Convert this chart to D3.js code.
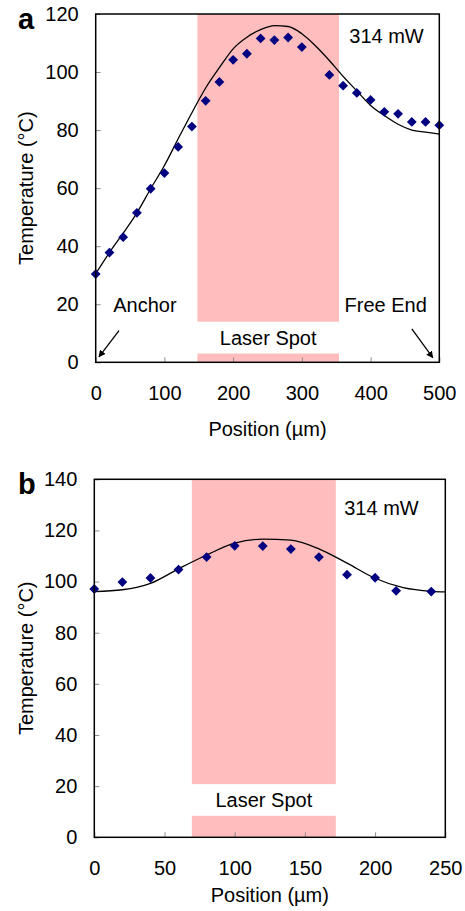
<!DOCTYPE html>
<html>
<head>
<meta charset="utf-8">
<script src="https://cdn.jsdelivr.net/npm/d3@7"></script>
<style>
  body { margin: 0; background: #fff; }
  svg { display: block; }
  text { font-family: "Liberation Sans", Arial, sans-serif; fill: #000; }
</style>
</head>
<body>
<svg id="chart" width="465" height="911"></svg>
<script>
// ---------- DATA ----------
// Panel a: measured points
const posA = [0,20,40,60,80,100,120,140,160,180,200,220,240,260,280,300,340,360,380,400,420,440,460,480,500];
const tempA = [30.4,37.8,43.1,51.5,59.8,65.2,74.2,81.2,90.1,96.6,104.2,106.3,111.6,111.0,111.9,108.6,99.0,95.3,92.8,90.4,86.3,85.6,82.8,82.8,81.7];
// Panel a: model curve
const modelPosA = [0,20,40,60,80,100,120,140,160,180,200,220,240,260,280,300,320,340,360,380,400,420,440,460,480,500];
const modelTempA = [30.5,37.8,44.5,51.5,59.8,67.8,77,86,94.5,101.5,108,112,114.6,116,115.7,113.2,109,104,98.5,93.5,88.5,85,82,80,79.3,78.6];
// Panel b: measured points
const posB = [0,20,40,60,80,100,120,140,160,180,200,215,240];
const tempB = [97.1,99.8,101.4,104.7,109.6,114.0,113.9,112.7,109.6,102.7,101.5,96.4,96.1];
// Panel b: model curve
const modelPosB = [0,20,40,60,80,100,120,140,160,180,200,220,240,250];
const modelTempB = [96.1,96.8,99.3,105,110.4,115,116.6,116.2,112.8,107.2,101.3,97.6,96.2,96.0];

const xTicksA = [0,100,200,300,400,500];
const yTicksA = [0,20,40,60,80,100,120];
const xTicksB = [0,50,100,150,200,250];
const yTicksB = [0,20,40,60,80,100,120,140];

const laserA = [148, 354];      // laser spot extent (µm)
const laserGapA = [3, 14];      // label gap (°C)
const laserB = [69.5, 172];
const laserGapB = [8.4, 20.8];

const powerLabel = "314 mW";
const xTitle = "Position (µm)";
const yTitle = "Temperature (°C)";

// ---------- DRAW ----------
const svg = d3.select("#chart");
const defs = svg.append("defs");
defs.append("marker")
  .attr("id", "arrow").attr("viewBox", "0 0 10 10")
  .attr("refX", 9).attr("refY", 5)
  .attr("markerWidth", 7).attr("markerHeight", 7)
  .attr("markerUnits", "userSpaceOnUse")
  .attr("orient", "auto")
  .append("path").attr("d", "M0,0 L10,5 L0,10 Z").attr("fill", "#000");

function panel(cfg) {
  const g = svg.append("g");
  const x = d3.scaleLinear().domain(cfg.xDomain).range([cfg.left, cfg.right]);
  const y = d3.scaleLinear().domain(cfg.yDomain).range([cfg.bottom, cfg.top]);

  // laser spot
  const lc = "#ffbdbd";
  g.append("rect")
    .attr("x", x(cfg.laser[0])).attr("width", x(cfg.laser[1]) - x(cfg.laser[0]))
    .attr("y", y(cfg.yDomain[1])).attr("height", y(cfg.laserGap[1]) - y(cfg.yDomain[1]))
    .attr("fill", lc);
  g.append("rect")
    .attr("x", x(cfg.laser[0])).attr("width", x(cfg.laser[1]) - x(cfg.laser[0]))
    .attr("y", y(cfg.laserGap[0])).attr("height", y(0) - y(cfg.laserGap[0]))
    .attr("fill", lc);
  g.append("text")
    .attr("x", (x(cfg.laser[0]) + x(cfg.laser[1])) / 2)
    .attr("y", y((cfg.laserGap[0] + cfg.laserGap[1]) / 2))
    .attr("dy", "0.35em")
    .attr("text-anchor", "middle").attr("font-size", 20)
    .text("Laser Spot");

  // axes
  const xa = g.append("g").attr("transform", `translate(0,${cfg.bottom})`)
    .call(d3.axisBottom(x).tickValues(cfg.xTicks).tickSizeInner(-5).tickSizeOuter(0).tickPadding(24));
  const ya = g.append("g").attr("transform", `translate(${cfg.left},0)`)
    .call(d3.axisLeft(y).tickValues(cfg.yTicks).tickSizeInner(-5).tickSizeOuter(0).tickPadding(17));
  [xa, ya].forEach(a => {
    a.select(".domain").remove();
    a.selectAll(".tick line").attr("stroke", "#8c8c8c").attr("stroke-width", 1);
    a.selectAll(".tick text").attr("font-size", 20).attr("font-family", "Liberation Sans, Arial, sans-serif").attr("fill", "#000");
  });

  // model line
  g.append("path")
    .datum(d3.zip(cfg.modelX, cfg.modelY))
    .attr("fill", "none").attr("stroke", "#000").attr("stroke-width", 1.3)
    .attr("d", d3.line().x(d => x(d[0])).y(d => y(d[1])).curve(d3.curveMonotoneX));

  // points
  const sym = d3.symbol().type(d3.symbolSquare).size(48);
  g.selectAll(".pt").data(d3.zip(cfg.px, cfg.py)).join("path")
    .attr("d", sym)
    .attr("fill", "#000080")
    .attr("transform", d => `translate(${x(d[0])},${y(d[1])}) rotate(45)`);

  // frame
  g.append("rect")
    .attr("x", cfg.left).attr("y", cfg.top)
    .attr("width", cfg.right - cfg.left).attr("height", cfg.bottom - cfg.top)
    .attr("fill", "none").attr("stroke", "#000").attr("stroke-width", 1.5);

  // labels
  g.append("text").attr("x", 18).attr("y", cfg.top + 14.5)
    .attr("font-size", 29).attr("font-weight", "bold").text(cfg.letter);
  g.append("text").attr("x", x(cfg.powerPos[0])).attr("y", y(cfg.powerPos[1]))
    .attr("font-size", 20).text(powerLabel);
  g.append("text").attr("x", (cfg.left + cfg.right) / 2).attr("y", cfg.bottom + cfg.xTitleOffset)
    .attr("text-anchor", "middle").attr("font-size", 20).text(xTitle);
  g.append("text")
    .attr("transform", `translate(33,${(cfg.top + cfg.bottom) / 2}) rotate(-90)`)
    .attr("text-anchor", "middle").attr("font-size", 20).text(yTitle);

  return { g, x, y };
}

const A = panel({
  letter: "a", left: 95.7, right: 439.3, top: 14, bottom: 362.3,
  xDomain: [0, 500], yDomain: [0, 120], xTicks: xTicksA, yTicks: yTicksA,
  laser: laserA, laserGap: laserGapA,
  modelX: modelPosA, modelY: modelTempA, px: posA, py: tempA,
  powerPos: [369, 110], xTitleOffset: 73.5
});
const B = panel({
  letter: "b", left: 94.3, right: 445.3, top: 479.3, bottom: 837.3,
  xDomain: [0, 250], yDomain: [0, 140], xTicks: xTicksB, yTicks: yTicksB,
  laser: laserB, laserGap: laserGapB,
  modelX: modelPosB, modelY: modelTempB, px: posB, py: tempB,
  powerPos: [178, 126], xTitleOffset: 64.5
});

// annotations in panel a
A.g.append("text").attr("x", A.x(25.6)).attr("y", A.y(17.4)).attr("font-size", 20).text("Anchor");
A.g.append("text").attr("x", A.x(481.8)).attr("y", A.y(17.4)).attr("text-anchor", "end").attr("font-size", 20).text("Free End");
A.g.append("line")
  .attr("x1", A.x(33.9)).attr("y1", A.y(10.9)).attr("x2", A.x(4.8)).attr("y2", A.y(1.9))
  .attr("stroke", "#000").attr("stroke-width", 1.3).attr("marker-end", "url(#arrow)");
A.g.append("line")
  .attr("x1", A.x(460)).attr("y1", A.y(11.5)).attr("x2", A.x(490.5)).attr("y2", A.y(1.6))
  .attr("stroke", "#000").attr("stroke-width", 1.3).attr("marker-end", "url(#arrow)");
</script>
</body>
</html>
